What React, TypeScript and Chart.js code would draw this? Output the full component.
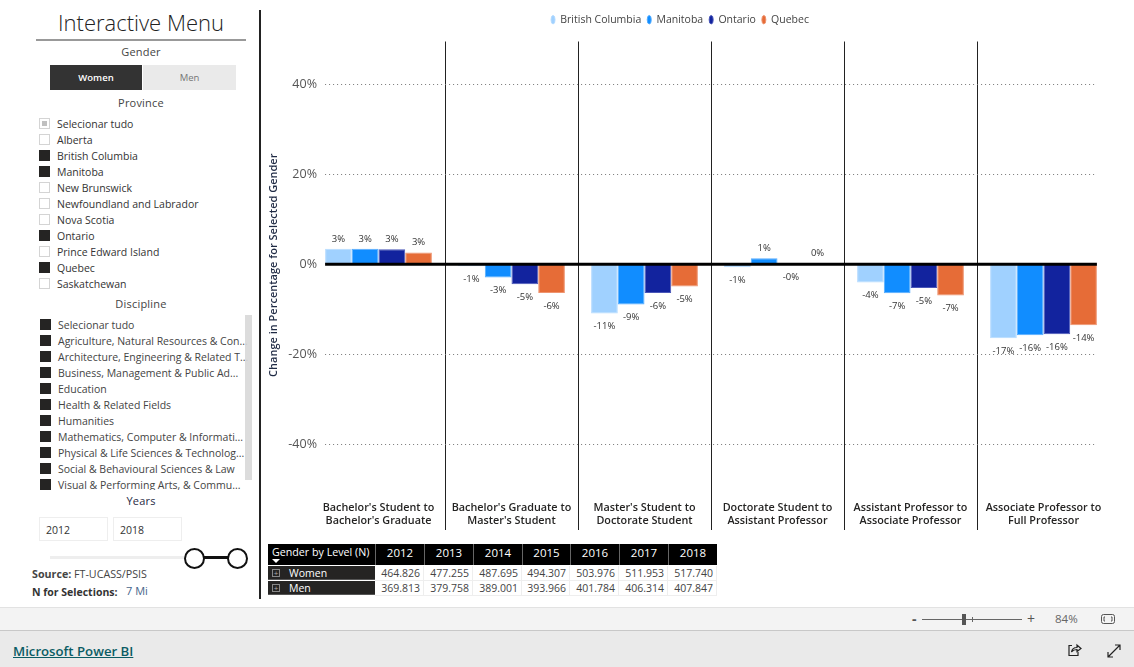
import React, { useEffect, useRef } from "react";
import { Chart, registerables } from "chart.js";

Chart.register(...registerables);

const FONT = '"Open Sans", sans-serif';

const categories = [
  ["Bachelor's Student to", "Bachelor's Graduate"],
  ["Bachelor's Graduate to", "Master's Student"],
  ["Master's Student to", "Doctorate Student"],
  ["Doctorate Student to", "Assistant Professor"],
  ["Assistant Professor to", "Associate Professor"],
  ["Associate Professor to", "Full Professor"],
];
const britishColumbia = [3.4, -0.5, -11, -0.7, -4.1, -16.5];
const manitoba = [3.4, -3.0, -9, 1.3, -6.5, -15.8];
const ontario = [3.3, -4.5, -6.4, -0.1, -5.3, -15.6];
const quebec = [2.6, -6.4, -5, 0.1, -7, -13.6];
const yTicks = [40, 20, 0, -20, -40];

const provinces = ["Selecionar tudo", "Alberta", "British Columbia", "Manitoba", "New Brunswick", "Newfoundland and Labrador", "Nova Scotia", "Ontario", "Prince Edward Island", "Quebec", "Saskatchewan"];
const provinceOn = [false, false, true, true, false, false, false, true, false, true, false];
const disciplines = ["Selecionar tudo", "Agriculture, Natural Resources & Con...", "Architecture, Engineering & Related T...", "Business, Management & Public Ad...", "Education", "Health & Related Fields", "Humanities", "Mathematics, Computer & Informati...", "Physical & Life Sciences & Technolog...", "Social & Behavioural Sciences & Law", "Visual & Performing Arts, & Commu..."];
const years = ["2012", "2013", "2014", "2015", "2016", "2017", "2018"];
const women = ["464.826", "477.255", "487.695", "494.307", "503.976", "511.953", "517.740"];
const men = ["369.813", "379.758", "389.001", "393.966", "401.784", "406.314", "407.847"];

const fmt = (v: number) => (v < 0 ? "-" : "") + Math.round(Math.abs(v)) + "%";

const extras = {
  id: "extras",
  beforeInit(chart: any) {
    const fit = chart.legend.fit;
    chart.legend.fit = function () {
      fit.call(this);
      this.height += 6.5;
    };
  },
  beforeDatasetsDraw(chart: any) {
    const { ctx } = chart;
    const y = chart.scales.y;
    const first = chart.getDatasetMeta(0).data[0];
    const last = chart.getDatasetMeta(3).data[5];
    const x0 = first.x - first.width / 2;
    const x1 = last.x + last.width / 2;
    ctx.save();
    ctx.strokeStyle = "#777";
    ctx.lineWidth = 1;
    ctx.setLineDash([1, 3]);
    yTicks.filter((t) => t !== 0).forEach((t) => {
      const p = Math.round(y.getPixelForValue(t)) + 0.5;
      ctx.beginPath();
      ctx.moveTo(x0, p);
      ctx.lineTo(x1, p);
      ctx.stroke();
    });
    ctx.restore();
  },
  afterDatasetsDraw(chart: any) {
    const { ctx } = chart;
    const y = chart.scales.y;
    const first = chart.getDatasetMeta(0).data[0];
    const last = chart.getDatasetMeta(3).data[5];
    ctx.save();
    ctx.strokeStyle = "#000";
    ctx.lineWidth = 3;
    ctx.beginPath();
    ctx.moveTo(first.x - first.width / 2, y.getPixelForValue(0));
    ctx.lineTo(last.x + last.width / 2, y.getPixelForValue(0));
    ctx.stroke();
    ctx.font = `9.5px ${FONT}`;
    ctx.fillStyle = "#333";
    ctx.textAlign = "center";
    ctx.textBaseline = "middle";
    chart.data.datasets.forEach((ds: any, i: number) => {
      chart.getDatasetMeta(i).data.forEach((bar: any, j: number) => {
        const v = ds.data[j];
        ctx.fillText(fmt(v), bar.x, v >= 0 ? bar.y - 10 : bar.y + 13);
      });
    });
    ctx.restore();
  },
};

const abs = (left: number, top: number, extra: React.CSSProperties = {}): React.CSSProperties => ({
  position: "absolute",
  left,
  top,
  whiteSpace: "nowrap",
  ...extra,
});

const centered = (text: string, cy: number, size = 11, color = "#444") => (
  <div style={abs(36, cy - 10, { width: 210, height: 20, lineHeight: "20px", textAlign: "center", fontSize: size, color, letterSpacing: 0.2 })}>{text}</div>
);

function Check({ x, y, on, partial }: { x: number; y: number; on?: boolean; partial?: boolean }) {
  return (
    <div style={abs(x, y, { width: 11, height: 11, boxSizing: "border-box", border: on ? "1px solid #252423" : "1px solid #d4d4d4", background: on ? "#252423" : "#fff" })}>
      {partial && <div style={{ position: "absolute", left: 2, top: 2, width: 5, height: 5, background: "#c0c0c0" }} />}
    </div>
  );
}

export default function App() {
  const ref = useRef<HTMLCanvasElement>(null);
  useEffect(() => {
    const mk = (label: string, data: number[], color: string, border: string) => ({
      label,
      data,
      backgroundColor: color,
      borderColor: border,
      borderWidth: 1,
      categoryPercentage: 0.803,
      barPercentage: 1,
    });
    const chart = new Chart(ref.current as HTMLCanvasElement, {
      type: "bar",
      data: {
        labels: categories,
        datasets: [
          mk("British Columbia", britishColumbia, "#a0d1ff", "#b5dbff"),
          mk("Manitoba", manitoba, "#118dff", "#55adff"),
          mk("Ontario", ontario, "#12239e", "#4a57b8"),
          mk("Quebec", quebec, "#e66c37", "#ee9470"),
        ],
      },
      options: {
        animation: false,
        responsive: false,
        maintainAspectRatio: false,
        layout: { padding: { top: 8.5, left: 0, right: 0, bottom: 0 } },
        plugins: {
          tooltip: { enabled: false },
          legend: {
            position: "top",
            labels: {
              usePointStyle: true,
              pointStyle: "circle",
              pointStyleWidth: 4,
              boxHeight: 6,
              padding: 6,
              color: "#444",
              font: { family: FONT, size: 10.5 },
            },
          },
        },
        scales: {
          x: {
            grid: {
              offset: true,
              tickLength: 41,
              lineWidth: 1,
              color: (c: any) => (c.index === 0 || c.index === categories.length ? "transparent" : "#222"),
              tickColor: (c: any) => (c.index === 0 || c.index === categories.length ? "transparent" : "#222"),
            },
            border: { display: false },
            ticks: {
              autoSkip: false,
              maxRotation: 0,
              padding: -29,
              color: "#252423",
              font: { family: FONT, size: 10.8, weight: "600", lineHeight: 1.2 },
            },
            afterFit: (s: any) => {
              s.height = 51;
            },
          },
          y: {
            min: -50,
            max: 49.5,
            afterBuildTicks: (s: any) => {
              s.ticks = yTicks.map((value) => ({ value }));
            },
            grid: { display: false, drawTicks: false },
            border: { display: false },
            ticks: {
              padding: -5,
              color: "#555",
              font: { family: FONT, size: 12.5 },
              callback: (v: any) => v + "%",
            },
            title: {
              display: true,
              text: "Change in Percentage for Selected Gender",
              color: "#1f2a44",
              padding: { top: 17, bottom: 0 },
              font: { family: FONT, size: 11, weight: "600" },
            },
            afterFit: (s: any) => {
              s.width = 62;
              s._computeLabelArea = () => undefined;
            },
          },
        },
      },
      plugins: [extras],
    } as any);
    return () => chart.destroy();
  }, []);

  const cols = [107, 49, 49, 49, 48, 49, 49, 49];
  const colX = cols.reduce<number[]>((a, w, i) => [...a, (a[i] ?? 0) + w], [268]);

  return (
    <div style={{ position: "absolute", left: 0, top: 0, width: 1134, height: 667, overflow: "hidden", background: "#fff", fontFamily: FONT, color: "#333" }}>
      {/* Left menu */}
      <div style={abs(36, 6, { width: 210, textAlign: "center", fontSize: 22, fontWeight: 300, lineHeight: "32px", color: "#222" })}>Interactive Menu</div>
      <div style={abs(36, 39, { width: 210, height: 2, background: "#999" })} />
      {centered("Gender", 52)}
      <div style={abs(50, 65, { width: 92, height: 25, background: "#333", color: "#fff", fontSize: 9.5, fontWeight: 600, lineHeight: "26px", textAlign: "center" })}>Women</div>
      <div style={abs(143, 65, { width: 93, height: 25, background: "#eaeaea", color: "#777", fontSize: 9.5, lineHeight: "26px", textAlign: "center" })}>Men</div>
      {centered("Province", 103)}
      {provinces.map((p, i) => (
        <React.Fragment key={p}>
          <Check x={39} y={118 + i * 16} on={provinceOn[i]} partial={i === 0} />
          <div style={abs(57, 116 + i * 16, { fontSize: 10.5, lineHeight: "16px", color: "#333" })}>{p}</div>
        </React.Fragment>
      ))}
      {centered("Discipline", 304)}
      <div style={abs(36, 315, { width: 216, height: 175, overflow: "hidden" })}>
        {disciplines.map((d, i) => (
          <React.Fragment key={d + i}>
            <Check x={4} y={4 + i * 16} on />
            <div style={abs(22, 2 + i * 16, { fontSize: 10.5, lineHeight: "16px", color: "#444" })}>{d}</div>
          </React.Fragment>
        ))}
      </div>
      <div style={abs(245, 315, { width: 7, height: 165, background: "#d8d8d8", opacity: 0.9 })} />
      {centered("Years", 501, 11, "#1f2a44")}
      <div style={abs(39, 517, { width: 69, height: 24, boxSizing: "border-box", border: "1px solid #eee", fontSize: 10.5, lineHeight: "24px", paddingLeft: 6 })}>2012</div>
      <div style={abs(113, 517, { width: 69, height: 24, boxSizing: "border-box", border: "1px solid #eee", fontSize: 10.5, lineHeight: "24px", paddingLeft: 6 })}>2018</div>
      <div style={abs(50, 556, { width: 135, height: 3, background: "#eee" })} />
      <div style={abs(200, 556, { width: 32, height: 2.5, background: "#111" })} />
      <div style={abs(184, 548, { width: 21, height: 21, boxSizing: "border-box", border: "2.5px solid #111", borderRadius: "50%", background: "#fff" })} />
      <div style={abs(227, 548, { width: 21, height: 21, boxSizing: "border-box", border: "2.5px solid #111", borderRadius: "50%", background: "#fff" })} />
      <div style={abs(32, 566, { fontSize: 10.7, lineHeight: "16px", color: "#444" })}><b style={{ fontWeight: 700 }}>Source:</b> FT-UCASS/PSIS</div>
      <div style={abs(32, 584, { fontSize: 10.5, lineHeight: "16px", fontWeight: 700, color: "#333" })}>N for Selections:</div>
      <div style={abs(126, 583, { fontSize: 11, lineHeight: "16px", color: "#47658a" })}>7 Mi</div>
      <div style={abs(259, 10, { width: 1.5, height: 589, background: "#222" })} />

      {/* Chart */}
      <canvas ref={ref} width={860} height={540} style={{ position: "absolute", left: 250, top: 0 }} />

      {/* Table */}
      <div style={abs(268, 544, { width: 449, height: 21, background: "#000" })} />
      <div style={abs(272, 544, { fontSize: 10.7, lineHeight: "16px", color: "#fff" })}>Gender by Level (N)</div>
      <div style={abs(272, 559, { width: 0, height: 0, borderLeft: "4px solid transparent", borderRight: "4px solid transparent", borderTop: "4px solid #fff" })} />
      {years.map((y, i) => (
        <div key={y} style={abs(colX[i + 1], 544, { width: cols[i + 1], height: 21, boxSizing: "border-box", borderLeft: "1px solid #666", color: "#fff", fontSize: 11.5, lineHeight: "18px", textAlign: "center" })}>{y}</div>
      ))}
      {[{ name: "Women", vals: women, top: 566 }, { name: "Men", vals: men, top: 581 }].map((r) => (
        <React.Fragment key={r.name}>
          <div style={abs(268, r.top, { width: 107, height: 14, background: "#252423", boxSizing: "border-box", borderBottom: "1px solid #555", color: "#fff", fontSize: 10.5, lineHeight: "14px", paddingLeft: 21 })}>{r.name}</div>
          <div style={abs(272, r.top + 3, { width: 8, height: 8, boxSizing: "border-box", border: "1px solid #888", color: "#aaa", fontSize: 8, lineHeight: "6px", textAlign: "center" })}>+</div>
          {r.vals.map((v, i) => (
            <div key={v} style={abs(colX[i + 1], r.top, { width: cols[i + 1], height: 15, boxSizing: "border-box", borderRight: "1px solid #eee", borderBottom: "1px solid #eee", fontSize: 10.5, lineHeight: "14px", textAlign: "right", paddingRight: 3, color: "#444" })}>{v}</div>
          ))}
        </React.Fragment>
      ))}

      {/* Bottom bars */}
      <div style={abs(0, 607, { width: 1134, height: 23, background: "#f3f3f3", borderTop: "1px solid #e2e2e2", boxSizing: "border-box" })} />
      <div style={abs(0, 630, { width: 1134, height: 37, background: "#eaeaea", borderTop: "1px solid #c8c8c8", boxSizing: "border-box" })} />
      <div style={abs(912, 611, { fontSize: 14, lineHeight: "16px", color: "#555", fontWeight: 700 })}>-</div>
      <div style={abs(922, 619, { width: 100, height: 1, background: "#666" })} />
      <div style={abs(962, 614, { width: 4, height: 11, background: "#555" })} />
      <div style={abs(972, 617, { width: 1, height: 5, background: "#666" })} />
      <div style={abs(1027, 610, { fontSize: 14, lineHeight: "18px", color: "#555" })}>+</div>
      <div style={abs(1055, 611, { fontSize: 11.5, lineHeight: "16px", color: "#666" })}>84%</div>
      <svg style={abs(1100, 612)} width={16} height={14} viewBox="0 0 16 14" fill="none" stroke="#555">
        <rect x="1.5" y="2.5" width="13" height="9" rx="2" />
        <path d="M5 5H4V9H5M11 5H12V9H11" />
      </svg>
      <a style={abs(13, 642, { fontSize: 13.2, lineHeight: "18px", fontWeight: 600, color: "#0b5c64", textDecoration: "underline" })}>Microsoft Power BI</a>
      <svg style={abs(1067, 643)} width={15} height={14} viewBox="0 0 15 14" fill="none" stroke="#222" strokeWidth="1.2">
        <path d="M5 2.5H2V12.5H11V9" />
        <path d="M4.5 9C5 6 7.5 4.5 10 4.5V2L14 5.5L10 8.5V6.5C8 6.5 6 7 4.5 9Z" />
      </svg>
      <svg style={abs(1107, 644)} width={14} height={14} viewBox="0 0 14 14" fill="none" stroke="#222" strokeWidth="1.2">
        <path d="M1 13L13 1M8 1H13V6M1 8V13H6" />
      </svg>
    </div>
  );
}
